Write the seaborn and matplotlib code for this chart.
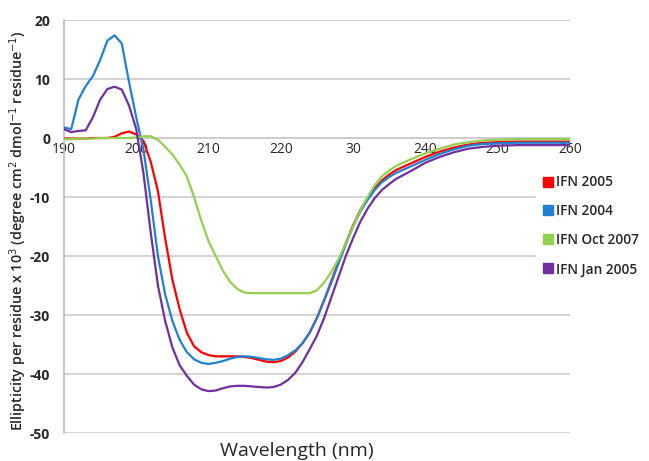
import numpy as np
import pandas as pd
import seaborn as sns
import matplotlib.pyplot as plt
from matplotlib.lines import Line2D

# wavelength grid (nm)
wavelength = list(range(190, 237)) + [238, 240, 242, 244, 246, 248, 250, 253, 256, 260]

# ellipticity per residue x 10^3
ifn_2005 = [-0.1, -0.1, -0.1, -0.1, 0.0, 0.0, 0.0, 0.2, 0.8, 1.1,
            0.6, -0.5, -4.0, -9.0, -17.0, -24.0, -29.0, -33.0, -35.3, -36.3,
            -36.8, -37.0, -37.0, -37.0, -37.0, -37.1, -37.3, -37.6, -37.9, -38.0,
            -37.8, -37.2, -36.2, -34.8, -33.0, -30.5, -27.5, -24.2, -21.0, -17.8,
            -14.8, -12.2, -10.2, -8.5, -7.2, -6.2, -5.4,
            -4.3, -3.2, -2.3, -1.6, -1.1, -0.8, -0.7, -0.6, -0.6, -0.6]
ifn_2004 = [1.8, 1.5, 6.5, 8.8, 10.5, 13.2, 16.5, 17.4, 16.0, 9.5,
            3.5, -2.0, -10.5, -20.0, -26.5, -31.0, -34.2, -36.3, -37.5, -38.1,
            -38.3, -38.1, -37.8, -37.4, -37.1, -37.0, -37.1, -37.3, -37.5, -37.6,
            -37.4, -36.8, -36.0, -34.8, -33.0, -30.5, -27.5, -24.5, -21.2, -18.0,
            -15.0, -12.5, -10.5, -8.8, -7.5, -6.6, -5.9,
            -4.8, -3.7, -2.7, -1.9, -1.3, -1.0, -0.9, -0.8, -0.8, -0.8]
ifn_oct_2007 = [-0.2, -0.2, -0.1, -0.1, -0.1, 0.0, 0.0, 0.0, 0.0, 0.0,
                0.1, 0.3, 0.3, -0.3, -1.5, -2.8, -4.5, -6.5, -10.0, -14.0,
                -17.5, -20.0, -22.5, -24.4, -25.6, -26.2, -26.3, -26.3, -26.3, -26.3,
                -26.3, -26.3, -26.3, -26.3, -26.3, -25.8, -24.5, -22.7, -20.5, -17.8,
                -15.0, -12.3, -10.0, -8.0, -6.5, -5.5, -4.7,
                -3.6, -2.6, -1.8, -1.1, -0.7, -0.4, -0.3, -0.2, -0.2, -0.2]
ifn_jan_2005 = [1.5, 1.0, 1.2, 1.3, 3.5, 6.5, 8.3, 8.7, 8.2, 5.5,
                1.5, -6.0, -16.0, -25.0, -31.0, -35.5, -38.5, -40.3, -41.8, -42.6,
                -42.9, -42.8, -42.4, -42.1, -42.0, -42.0, -42.1, -42.2, -42.3, -42.2,
                -41.8, -41.0, -39.8, -38.0, -35.8, -33.5, -30.5, -27.0, -23.5, -20.0,
                -17.0, -14.2, -12.0, -10.2, -8.8, -7.8, -6.9,
                -5.6, -4.2, -3.2, -2.4, -1.8, -1.5, -1.3, -1.2, -1.2, -1.2]

series_names = ["IFN 2005", "IFN 2004", "IFN Oct 2007", "IFN Jan 2005"]
colors = ["#FF0000", "#2080D2", "#92D050", "#7030A0"]

x_ticks = [190, 200, 210, 220, 230, 240, 250, 260]
x_labels = ["190", "200", "210", "220", "30", "240", "250", "260"]
y_ticks = [-50, -40, -30, -20, -10, 0, 10, 20]

df = pd.concat([
    pd.DataFrame({"wl": wavelength, "val": vals, "sample": name})
    for name, vals in zip(series_names,
                          [ifn_2005, ifn_2004, ifn_oct_2007, ifn_jan_2005])
])

sns.set_style("white")
plt.rcParams['font.family'] = ['Open Sans', 'DejaVu Sans']
plt.rcParams['axes.unicode_minus'] = False

fig = plt.figure(figsize=(6.49, 4.61), dpi=100)
ax = fig.add_axes([0.0986, 0.0607, 0.7794, 0.8959])

sns.lineplot(data=df, x="wl", y="val", hue="sample", hue_order=series_names,
             palette=colors, linewidth=1.6, legend=False, ax=ax, zorder=3)

ax.set_xlim(190, 260)
ax.set_ylim(-50, 20)
ax.set_yticks(y_ticks)
ax.set_yticklabels([str(v) for v in y_ticks], fontsize=10, fontweight="bold")
ax.set_xticks(x_ticks)
ax.set_xticklabels(x_labels, fontsize=10, fontweight="bold")
ax.yaxis.grid(True, color="#CCCCCC", linewidth=1.2, zorder=0)
ax.set_axisbelow(True)

for s in ["top", "right"]:
    ax.spines[s].set_visible(False)
ax.spines["left"].set_color("#BBBBBB")
ax.spines["left"].set_linewidth(1.2)
ax.spines["bottom"].set_position(("data", 0))
ax.spines["bottom"].set_color("#CCCCCC")
ax.spines["bottom"].set_linewidth(1.2)
ax.tick_params(axis="both", length=0)
ax.tick_params(axis="y", pad=10)
ax.tick_params(axis="x", pad=3)

ax.set_xlabel("")
ax.set_ylabel("")
fig.text(0.458, 0.022, "Wavelength (nm)", ha="center", va="center", fontsize=14)
fig.text(0.028, 0.5, "Ellipticity per residue x 10$^3$ (degree cm$^2$ dmol$^{-1}$ residue$^{-1}$)",
         rotation=90, ha="center", va="center", fontsize=10.3, fontweight="semibold")

handles = [Line2D([], [], marker="s", linestyle="", color=c, markersize=7.5) for c in colors]
leg = fig.legend(handles, series_names, loc="center left", bbox_to_anchor=(0.826, 0.51),
                 frameon=True, fontsize=9.8, handletextpad=0.0, labelspacing=1.1,
                 borderpad=0.3, handlelength=1.2, borderaxespad=0)
leg.get_frame().set_edgecolor("white")
leg.get_frame().set_facecolor("white")
leg.get_frame().set_alpha(1)
for t in leg.get_texts():
    t.set_fontweight("semibold")

fig.savefig("out.png", dpi=100)
